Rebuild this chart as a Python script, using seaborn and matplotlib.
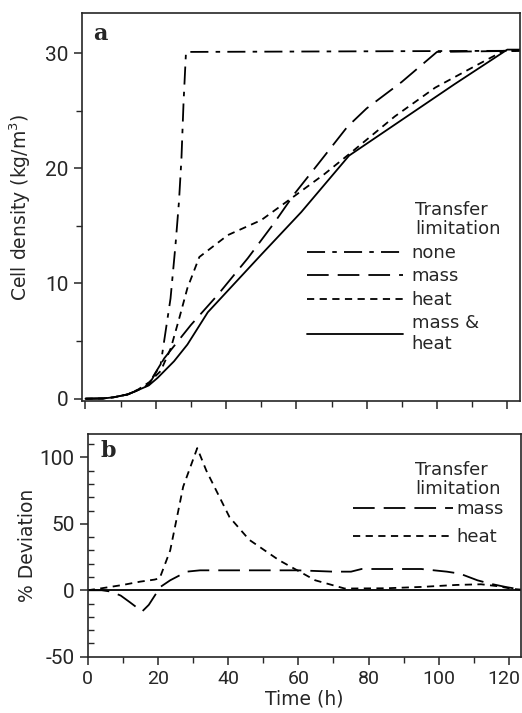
import numpy as np
import pandas as pd
import seaborn as sns
import matplotlib.pyplot as plt
import matplotlib.transforms as mtransforms
from matplotlib.ticker import MultipleLocator

# panel a: cell density (kg/m3) vs time (h)
none_t = [0, 5, 8, 12, 15, 17, 19, 21.4, 24.2, 25.6, 26.6, 27.3, 27.9, 28.6, 124]
none_y = [0, 0.02, 0.12, 0.37, 0.75, 1.0, 1.8, 3.0, 8.7, 13.3, 17.1, 20.8, 25.7, 30.1, 30.2]

mass_t = [0, 5, 8, 12, 15, 18, 22.4, 30, 37.6, 46.2, 53.8, 59.5, 66, 74.5, 80, 90, 100, 124]
mass_y = [0, 0.02, 0.12, 0.37, 0.75, 1.2, 3.5, 6.4, 9.0, 12.2, 15.3, 17.8, 20.3, 23.6, 25.2, 27.5, 30.1, 30.2]

heat_t = [0, 5, 8, 12, 15, 18, 21.4, 24.3, 26.7, 29, 32.4, 40.5, 50, 59.5, 68, 75.7, 88, 99.5, 111, 119, 124]
heat_y = [0, 0.02, 0.12, 0.37, 0.8, 1.4, 2.4, 4.4, 7.0, 9.6, 12.3, 14.2, 15.5, 17.6, 19.5, 21.4, 24.5, 27.0, 28.9, 30.2, 30.2]

both_t = [0, 5, 8, 12, 15, 18, 20.5, 25.2, 29, 34.8, 50, 61.4, 75, 90, 105, 120, 124]
both_y = [0, 0.02, 0.12, 0.37, 0.75, 1.15, 1.8, 3.25, 4.7, 7.5, 12.5, 16.2, 21.1, 24.2, 27.3, 30.3, 30.3]

# panel b: % deviation from the mass & heat case
mass_dev_t = [0, 4, 6.6, 9.4, 12, 15.5, 17.4, 20.7, 23.5, 28.2, 32, 45, 60, 70, 75, 78, 85, 95,
              102.3, 106, 111, 114.5, 119, 123.4]
mass_dev = [0, 0, -1, -4, -9, -16, -11, 2.5, 7.5, 14, 15, 15, 15, 14, 14, 16, 16, 16,
            14, 12.5, 7.5, 5, 2.5, 0.5]

heat_dev_t = [0, 4, 10, 15, 19, 20.5, 23.5, 27.2, 31.2, 33.8, 40.4, 46, 54.5, 64.8, 73.2,
              85, 95, 105, 112, 117, 121, 123.4]
heat_dev = [0, 1.5, 4, 6.5, 8, 9, 30, 78, 107, 90, 55, 38, 22.6, 7.5, 1.3,
            1.5, 2.5, 4, 4.5, 3, 1, 0.5]

ref_dev_t = [0, 123.4]
ref_dev = [0, 0]

labels_a = ['none', 'mass', 'heat', 'mass &\nheat']
labels_b = ['mass', 'heat', 'ref']

styles = {'none': (10, 4, 2.5, 4), 'mass': (12, 5), 'heat': (4, 3),
          'mass &\nheat': '', 'ref': ''}

num_font = ['Roboto', 'DejaVu Sans']


def long_df(parts):
    frames = []
    for name, t, y in parts:
        frames.append(pd.DataFrame({'t': t, 'y': y, 'limitation': name}))
    return pd.concat(frames, ignore_index=True)


df_a = long_df([('none', none_t, none_y), ('mass', mass_t, mass_y),
                ('heat', heat_t, heat_y), ('mass &\nheat', both_t, both_y)])
df_b = long_df([('mass', mass_dev_t, mass_dev), ('heat', heat_dev_t, heat_dev),
                ('ref', ref_dev_t, ref_dev)])

sns.set_style("ticks")
plt.rcParams['font.family'] = ['DejaVu Sans']
plt.rcParams['axes.linewidth'] = 1.2
plt.rcParams['axes.unicode_minus'] = False

fig = plt.figure(figsize=(5.22, 7.13), dpi=100)
ax1 = fig.add_axes([0.157, 0.4376, 0.839, 0.5437])
ax2 = fig.add_axes([0.168, 0.079, 0.830, 0.313])

sns.lineplot(data=df_a, x='t', y='y', style='limitation', style_order=labels_a,
             dashes=styles, color='black', linewidth=1.3, sort=False,
             estimator=None, legend=False, ax=ax1)
sns.lineplot(data=df_b, x='t', y='y', style='limitation', style_order=labels_b,
             dashes=styles, color='black', linewidth=1.3, sort=False,
             estimator=None, legend=False, ax=ax2)

# panel a axes
ax1.set_xlim(-1, 123.6)
ax1.set_ylim(-0.2, 33.45)
ax1.xaxis.set_major_locator(MultipleLocator(20))
ax1.xaxis.set_minor_locator(MultipleLocator(10))
ax1.yaxis.set_major_locator(MultipleLocator(10))
ax1.yaxis.set_minor_locator(MultipleLocator(5))
ax1.tick_params(axis='x', labelbottom=False)
ax1.tick_params(which='major', length=6, width=1.1, labelsize=15)
ax1.tick_params(which='minor', length=4, width=1.0)
ax1.set_xlabel('')
ax1.set_ylabel('Cell density (kg/m$^3$)', fontsize=13.5)
ax1.yaxis.set_label_coords(-0.112, 0.5)
ax1.text(0.025, 0.975, 'a', transform=ax1.transAxes, fontsize=16,
         fontweight='bold', family='DejaVu Serif', va='top', ha='left')

ax1.legend(ax1.get_lines(), labels_a, loc='upper left',
           bbox_to_anchor=(0.514, 0.405), frameon=False, fontsize=13,
           handlelength=5.3, handletextpad=0.5, borderpad=0,
           borderaxespad=0, labelspacing=0.3)
ax1.text(0.760, 0.515, 'Transfer\nlimitation', transform=ax1.transAxes,
         fontsize=13, va='top', ha='left', linespacing=1.05)

# panel b axes
ax2.set_xlim(0, 123.4)
ax2.set_ylim(-50, 118)
ax2.xaxis.set_major_locator(MultipleLocator(20))
ax2.xaxis.set_minor_locator(MultipleLocator(10))
ax2.yaxis.set_major_locator(MultipleLocator(50))
ax2.yaxis.set_minor_locator(MultipleLocator(10))
ax2.tick_params(which='major', length=6, width=1.1, labelsize=15)
ax2.tick_params(axis='x', labelsize=14)
ax2.tick_params(axis='x', which='minor', length=4, width=1.0)
ax2.tick_params(axis='y', which='minor', length=4, width=1.0, direction='in')
ax2.set_xlabel('Time (h)', fontsize=13.5, labelpad=1)
ax2.set_ylabel('% Deviation', fontsize=13.5)
ax2.yaxis.set_label_coords(-0.118, 0.5)
ax2.text(0.03, 0.97, 'b', transform=ax2.transAxes, fontsize=16,
         fontweight='bold', family='DejaVu Serif', va='top', ha='left')

lines_b = ax2.get_lines()
ax2.legend(lines_b[:2], labels_b[:2], loc='upper left',
           bbox_to_anchor=(0.613, 0.70), frameon=False, fontsize=13,
           handlelength=5.5, handletextpad=0.2, borderpad=0,
           borderaxespad=0, labelspacing=0.55)
ax2.text(0.756, 0.875, 'Transfer\nlimitation', transform=ax2.transAxes,
         fontsize=13, va='top', ha='left', linespacing=1.05)

for ax in (ax1, ax2):
    for side in ax.spines:
        ax.spines[side].set_visible(True)
        ax.spines[side].set_linewidth(1.2)
    for lab in ax.get_xticklabels() + ax.get_yticklabels():
        lab.set_family(num_font)

# the last time label sits at the right edge, nudge it in a little
fig.canvas.draw()
last = ax2.xaxis.get_major_ticks()[-1].label1
for tick in ax2.xaxis.get_major_ticks():
    if tick.label1.get_text() == '120':
        last = tick.label1
shift = mtransforms.ScaledTranslation(-5 / 100, 0, fig.dpi_scale_trans)
last.set_transform(last.get_transform() + shift)

fig.savefig('out.png', dpi=100)
